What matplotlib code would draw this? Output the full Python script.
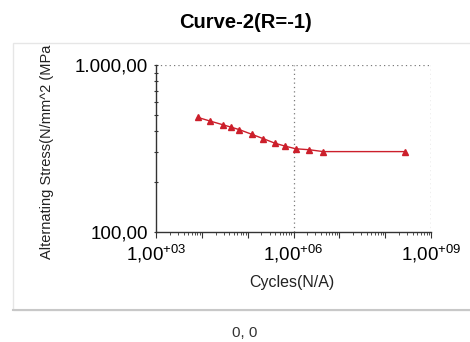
import numpy as np
import matplotlib
matplotlib.use("Agg")
import matplotlib.pyplot as plt
from matplotlib.ticker import FixedLocator, FuncFormatter, NullFormatter
from matplotlib.patches import Rectangle
from matplotlib.lines import Line2D

plt.rcParams['font.family'] = ['Liberation Sans', 'DejaVu Sans']

# S-N curve points
cycles = [8.1e3, 1.5e4, 2.85e4, 4.27e4, 6.6e4, 1.22e5, 2.2e5, 3.95e5,
          6.5e5, 1.12e6, 2.18e6, 4.47e6, 2.7e8]
stress = [486, 462, 439, 425, 410, 385, 362, 340, 327, 315, 311, 303, 303]

x_decades = [1e3, 1e4, 1e5, 1e6, 1e7, 1e8, 1e9]
x_labelled = {1e3: "+03", 1e6: "+06", 1e9: "+09"}
y_labels = {100: "100,00", 1000: "1.000,00"}

fig = plt.figure(figsize=(4.7, 3.42), dpi=100)
fig.patch.set_facecolor('white')

# light panel frame
fig.patches.append(Rectangle((13/470, 1-310/342), 1.0, (310-43)/342,
                             transform=fig.transFigure, fill=False,
                             edgecolor='#e6e6e6', lw=1.0))
fig.lines.append(Line2D([13/470, 1.0], [1-310/342, 1-310/342],
                        transform=fig.transFigure, color='#c8c8c8', lw=1.5))

ax = fig.add_axes([156/470, 1-232/342, 275/470, (232-65)/342])
ax.set_xscale('log')
ax.set_yscale('log')
ax.set_xlim(1e3, 1e9)
ax.set_ylim(100, 1000)

ax.plot(cycles, stress, color='#cc1f2b', lw=1.0, marker='^',
        markersize=4.5, markeredgecolor='#cc1f2b', zorder=3)

# dotted grid at the labelled positions
for gx in [1e6, 1e9]:
    ax.axvline(gx, color='#7a7a7a', lw=0.9, ls=(0, (1, 2.5)), zorder=1)
ax.axhline(1000, color='#7a7a7a', lw=0.9, ls=(0, (1, 2.5)), zorder=1)

for s in ['top', 'right']:
    ax.spines[s].set_visible(False)
for s in ['left', 'bottom']:
    ax.spines[s].set_color('#333333')
    ax.spines[s].set_linewidth(1.0)

ax.xaxis.set_major_locator(FixedLocator(x_decades))
ax.xaxis.set_major_formatter(FuncFormatter(
    lambda v, p: r"1,00$^{\mathregular{%s}}$" % x_labelled[v] if v in x_labelled else ""))
ax.xaxis.set_minor_locator(FixedLocator(
    [d * k for d in x_decades[:-1] for k in range(2, 10)]))
ax.xaxis.set_minor_formatter(NullFormatter())

ax.yaxis.set_major_locator(FixedLocator([100, 1000]))
ax.yaxis.set_major_formatter(FuncFormatter(lambda v, p: y_labels.get(int(round(v)), "")))
ax.yaxis.set_minor_locator(FixedLocator([200, 300, 400, 500, 600, 700, 800, 900]))
ax.yaxis.set_minor_formatter(NullFormatter())

ax.tick_params(axis='x', which='major', length=4, width=0.8, color='#333333',
               labelsize=13.5, pad=3)
ax.tick_params(axis='x', which='minor', length=2, width=0.6, color='#333333')
ax.tick_params(axis='y', which='major', length=3, width=0.8, color='#333333',
               direction='inout', labelsize=13.5, pad=4)
ax.tick_params(axis='y', which='minor', length=3, width=0.8, color='#333333',
               direction='inout')

fig.text(245/470, 1-22/342, "Curve-2(R=-1)", ha='center', va='center',
         fontsize=14.5, fontweight='bold')
fig.text(292/470, 1-283/342, "Cycles(N/A)", ha='center', va='center',
         fontsize=11.5, color='#222222')
fig.text(47/470, 1-152/342, "Alternating Stress(N/mm^2 (MPa", ha='center',
         va='center', rotation=90, fontsize=10.5, color='#222222')
fig.text(245/470, 1-333/342, "0, 0", ha='center', va='center',
         fontsize=11, color='#333333')

fig.savefig("out.png", dpi=100)
